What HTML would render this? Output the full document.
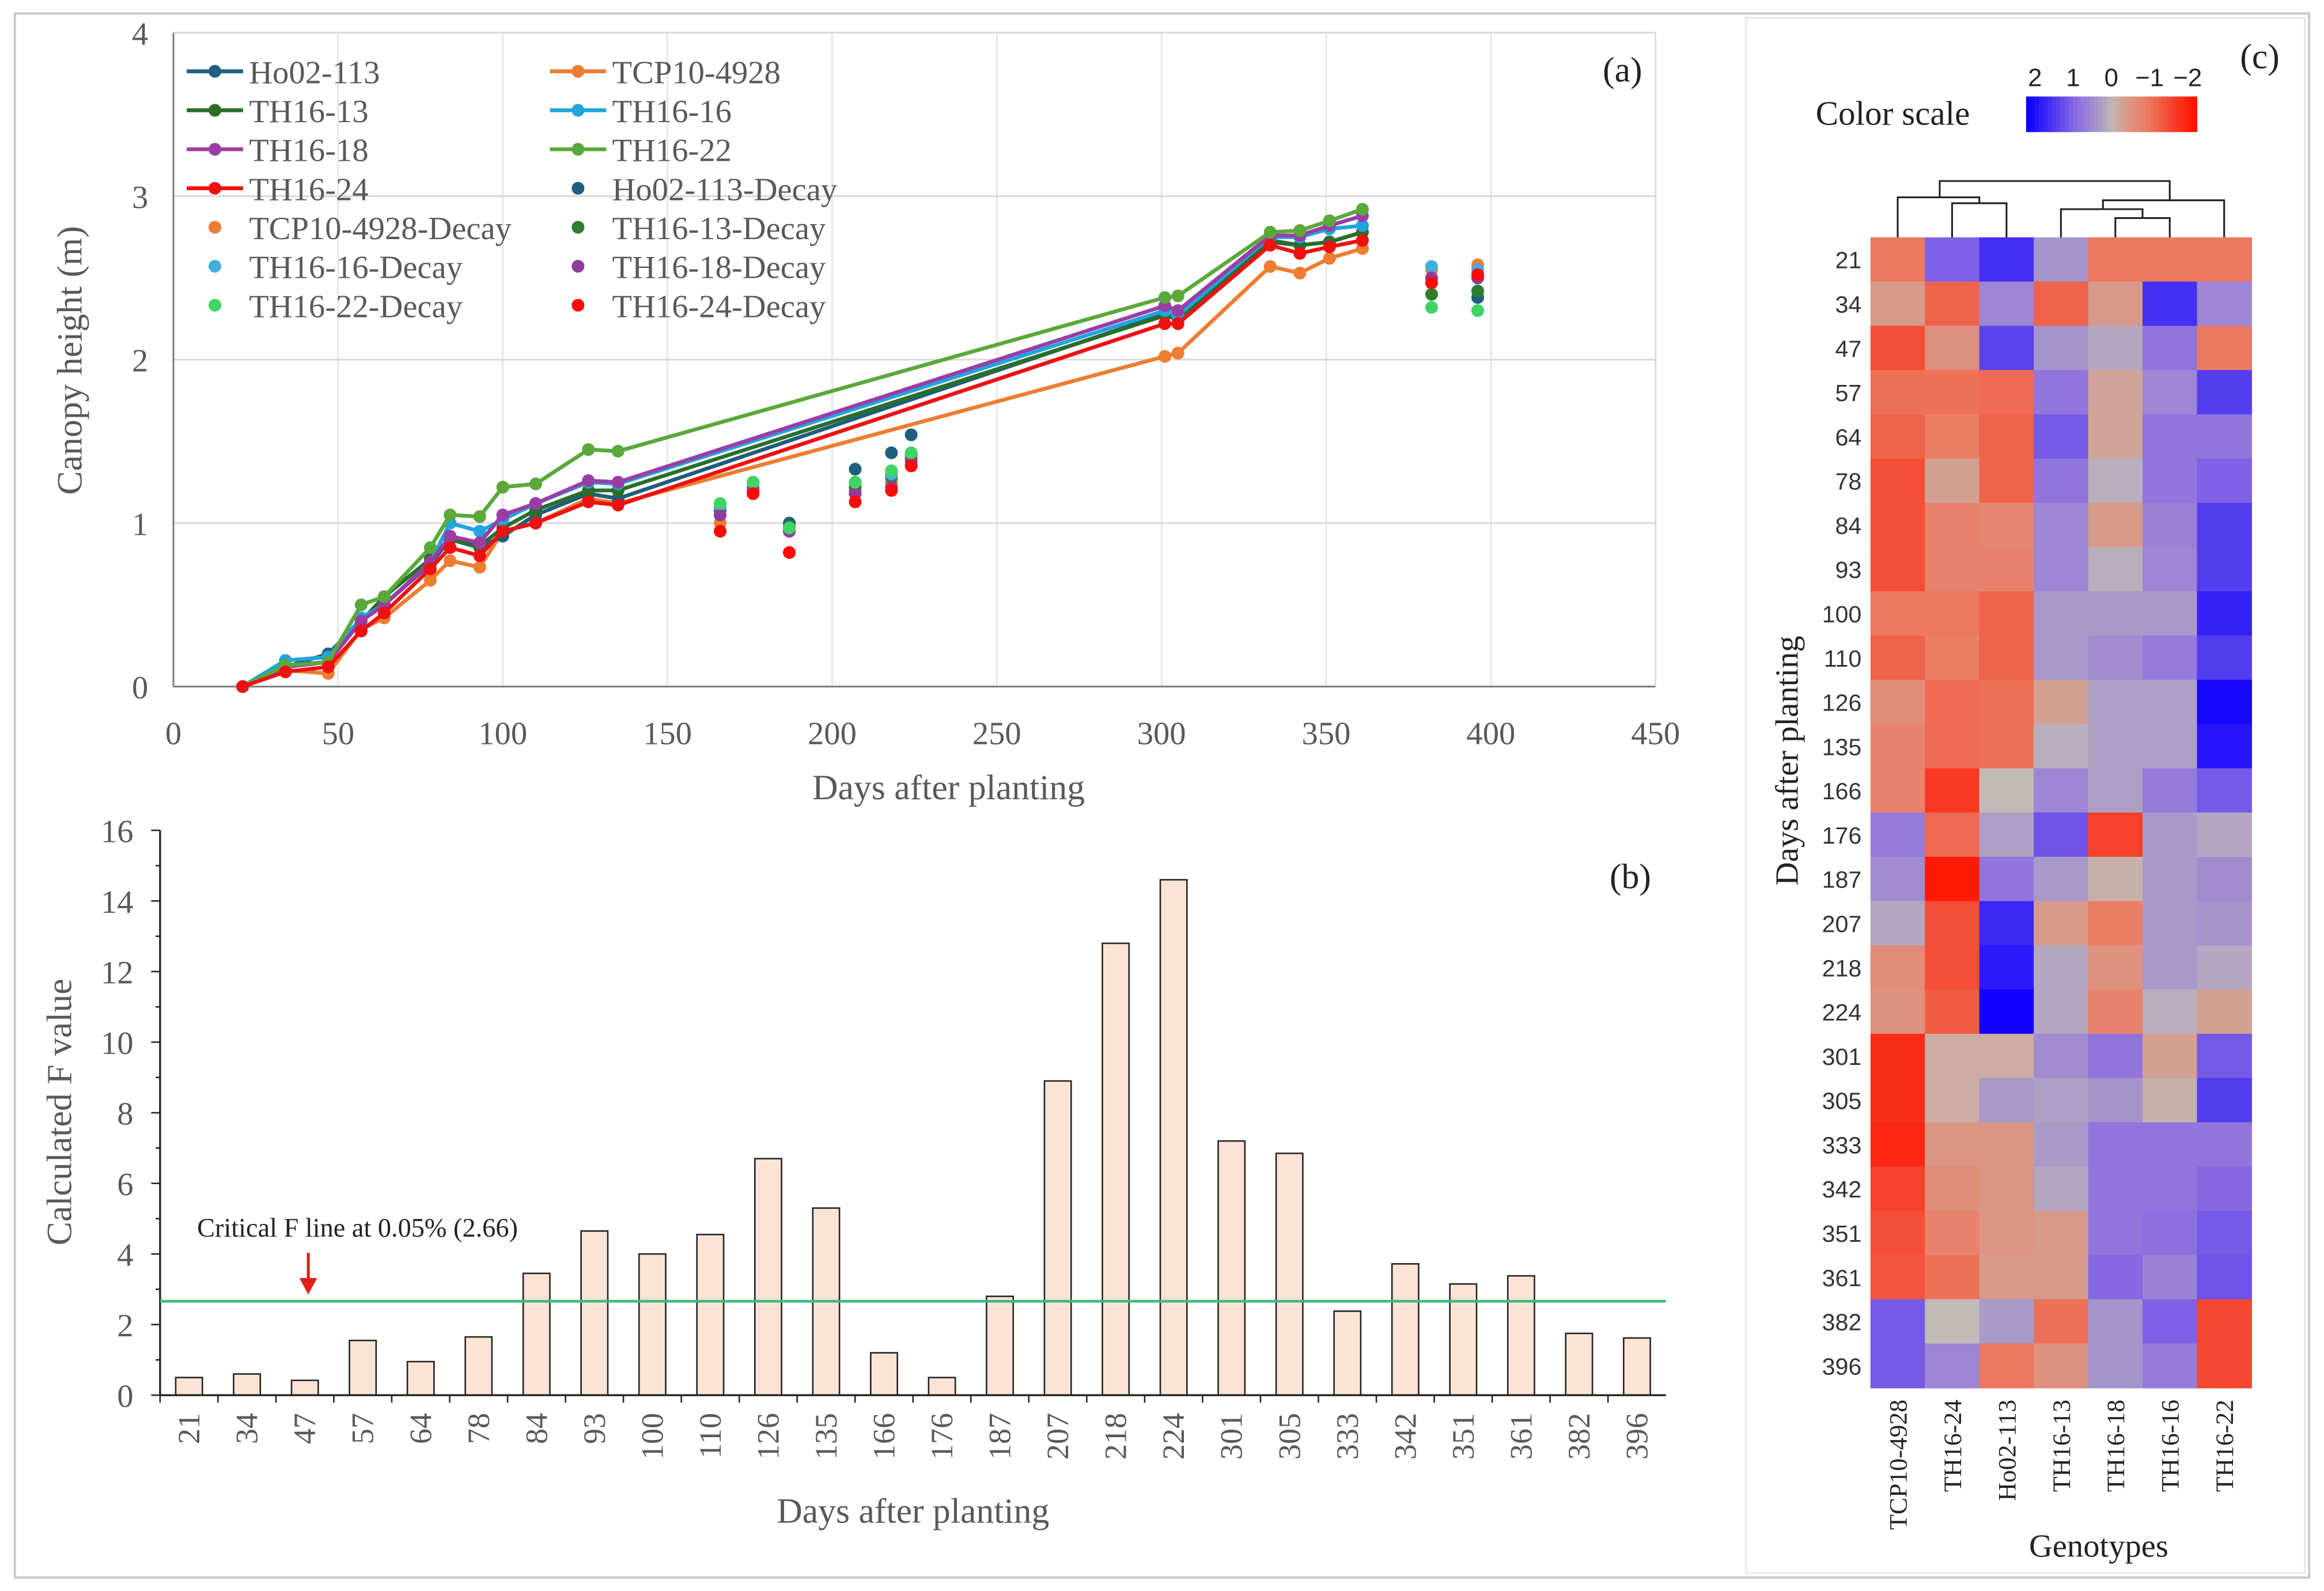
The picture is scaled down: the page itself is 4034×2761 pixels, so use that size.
<!DOCTYPE html>
<html><head><meta charset="utf-8"><style>
html,body{margin:0;padding:0;background:#fff;}
svg{display:block;font-family:"Liberation Serif",serif;}
</style></head><body>
<svg id="fig" width="4034" height="2761" viewBox="0 0 1568 1073" xmlns="http://www.w3.org/2000/svg">
<rect x="10" y="9" width="1548" height="1055" fill="#fff" stroke="#c8c8c8" stroke-width="1.5"/>
<rect x="1178" y="12" width="377" height="1049" fill="none" stroke="#e4e4e4" stroke-width="1"/>
<g id="pa"></g>
<g id="pb"></g>
<g id="pc"></g>
</svg>
<script>
const NS="http://www.w3.org/2000/svg";
function mk(p,t,a,txt){const e=document.createElementNS(NS,t);for(const k in a)e.setAttribute(k,a[k]);if(txt!==undefined)e.textContent=txt;p.appendChild(e);return e;}

// ---------- Panel A data ----------
const growDays=[21,34,47,57,64,78,84,93,100,110,126,135,301,305,333,342,351,361];
const decayDays=[166,176,187,207,218,224,382,396];
const genoNames=["Ho02-113","TCP10-4928","TH16-13","TH16-16","TH16-18","TH16-22","TH16-24"];
const hHo02=[0,.12,.2,.4,.5,.75,.9,.85,.92,1.05,1.18,1.15,2.28,2.25,2.72,2.7,2.72,2.78];
const hTCP=[0,.1,.08,.35,.42,.65,.77,.73,.95,1.0,1.15,1.12,2.02,2.04,2.57,2.53,2.62,2.68];
const h13=[0,.12,.15,.4,.55,.78,.9,.86,.97,1.08,1.2,1.2,2.27,2.25,2.73,2.7,2.72,2.78];
const h16=[0,.16,.18,.42,.5,.76,1.0,.95,1.02,1.12,1.25,1.24,2.3,2.27,2.75,2.75,2.8,2.82];
const h18=[0,.12,.15,.4,.5,.76,.92,.88,1.05,1.12,1.26,1.25,2.33,2.3,2.76,2.76,2.82,2.88];
const h22=[0,.13,.15,.5,.55,.85,1.05,1.04,1.22,1.24,1.45,1.44,2.38,2.39,2.78,2.79,2.85,2.92];
const h24=[0,.09,.12,.34,.45,.72,.85,.8,.95,1.0,1.13,1.11,2.22,2.22,2.7,2.65,2.69,2.73];
const dHo02=[1.08,1.22,1.0,1.33,1.43,1.54,2.5,2.38];
const dTCP=[1.0,1.18,.95,1.2,1.25,1.4,2.55,2.58];
const d13=[1.05,1.25,.98,1.22,1.28,1.42,2.4,2.42];
const d16=[1.1,1.22,.97,1.25,1.3,1.43,2.57,2.55];
const d18=[1.05,1.2,.95,1.18,1.22,1.38,2.5,2.5];
const d22=[1.12,1.25,.97,1.25,1.32,1.43,2.32,2.3];
const d24=[.95,1.18,.82,1.13,1.2,1.35,2.47,2.52];
const aXTicks=[0,50,100,150,200,250,300,350,400,450];
const aYTicks=[0,1,2,3,4];

// ---------- Panel B data ----------
const fDays=[21,34,47,57,64,78,84,93,100,110,126,135,166,176,187,207,218,224,301,305,333,342,351,361,382,396];
const fVals=[.5,.6,.42,1.55,.95,1.65,3.45,4.65,4.0,4.55,6.7,5.3,1.2,.5,2.8,8.9,12.8,14.6,7.2,6.85,2.38,3.72,3.15,3.38,1.75,1.62];
const fCritical=2.66;
const bYTicks=[0,2,4,6,8,10,12,14,16];

// ---------- Panel C data ----------
const hmCols=["TCP10-4928","TH16-24","Ho02-113","TH16-13","TH16-18","TH16-16","TH16-22"];
const hmRows=[21,34,47,57,64,78,84,93,100,110,126,135,166,176,187,207,218,224,301,305,333,342,351,361,382,396];
const hmVals=[
[-1.2,1.3,2,0.5,-1.2,-1.2,-1.2],[-0.5,-1.5,0.7,-1.5,-0.5,2,0.7],[-1.8,-0.7,1.7,0.5,0.2,1,-1.2],
[-1.3,-1.3,-1.4,1,-0.3,0.7,1.8],[-1.5,-1.1,-1.5,1.4,-0.3,1,1],[-1.8,-0.4,-1.5,1,0.1,1,1.3],
[-1.8,-1,-0.9,0.7,-0.5,0.8,1.8],[-1.8,-1,-1,0.7,0.1,0.7,1.8],[-1.2,-1.2,-1.5,0.4,0.4,0.4,2.2],
[-1.5,-1.1,-1.5,0.4,0.6,0.9,1.8],[-0.8,-1.4,-1.3,-0.4,0.3,0.3,2.6],[-1,-1.4,-1.3,0.1,0.3,0.3,2.4],
[-1,-2.1,0,0.7,0.3,0.9,1.4],[0.9,-1.4,0.3,1.5,-2,0.4,0.2],[0.6,-2.6,1,0.4,-0.1,0.4,0.6],
[0.2,-1.8,2.1,-0.5,-1.1,0.4,0.5],[-0.8,-1.8,2.3,0.2,-0.7,0.4,0.2],[-0.7,-1.6,2.8,0.2,-1,0.1,-0.4],
[-2.3,-0.2,-0.2,0.6,1,-0.4,1.4],[-2.3,-0.2,0.4,0.3,0.5,-0.1,1.8],[-2.4,-0.6,-0.6,0.4,1,1,1],
[-2,-0.8,-0.6,0.2,1,1,1.2],[-1.8,-1,-0.6,-0.5,1,1.1,1.4],[-1.7,-1.3,-0.5,-0.5,1.2,0.8,1.5],
[1.4,0,0.4,-1.3,0.5,1.3,-1.9],[1.4,0.7,-1.2,-0.7,0.5,0.9,-1.9]];

// ====== Panel A ======
const pa=document.getElementById('pa');
const ax0=117,ax1=1117,ay0=463,ay1=22;
const xA=d=>ax0+(d/450)*(ax1-ax0);
const yA=v=>ay0-(v/4)*(ay0-ay1);
aXTicks.forEach(t=>{if(t>0){const l=mk(pa,'line',{x1:xA(t),x2:xA(t),y1:ay1,y2:ay0,stroke:'#e3e3e3','stroke-width':1});}
 const tx=mk(pa,'text',{x:xA(t),y:502,'font-size':22,fill:'#595959','text-anchor':'middle'},t);});
aYTicks.forEach(t=>{if(t>0){const l=mk(pa,'line',{x1:ax0,x2:ax1,y1:yA(t),y2:yA(t),stroke:'#d9d9d9','stroke-width':1.2});}
 const tx=mk(pa,'text',{x:100,y:yA(t)+8,'font-size':22,fill:'#595959','text-anchor':'end'},t);});
mk(pa,'line',{x1:ax0,x2:ax1,y1:ay0,y2:ay0,stroke:'#7f7f7f','stroke-width':1.2});
mk(pa,'line',{x1:ax0,x2:ax0,y1:ay1,y2:ay0,stroke:'#7f7f7f','stroke-width':1.2});
mk(pa,'line',{x1:ax1,x2:ax1,y1:ay1,y2:ay0,stroke:'#d9d9d9','stroke-width':1});
let t=mk(pa,'text',{x:640,y:539,'font-size':24,fill:'#595959','text-anchor':'middle'},'Days after planting');
t=mk(pa,'text',{x:0,y:0,'font-size':24,fill:'#595959','text-anchor':'middle',transform:'translate(55,243) rotate(-90)'},'Canopy height (m)');
t=mk(pa,'text',{x:1108,y:55,'font-size':24,fill:'#222','text-anchor':'end'},'(a)');
const lineSeries=[[hHo02,'#1f5e7e'],[hTCP,'#ed7d31'],[h13,'#2a6e2a'],[h16,'#21a5de'],[h18,'#9a3ea6'],[h22,'#5aa93b'],[h24,'#ee1111']];
const decaySeries=[[dHo02,'#1f5e7e'],[dTCP,'#ed7d31'],[d13,'#2f7d2f'],[d16,'#42aee0'],[d18,'#8e3b9a'],[d22,'#3fd463'],[d24,'#ff0a0a']];
const drawOrder=[1,0,2,3,4,5,6];
drawOrder.forEach(i=>{const [vals,c]=lineSeries[i];
 const g=mk(pa,'g',{});
 const seg1=growDays.map((d,j)=>xA(d)+','+yA(vals[j])).join(' ');
 mk(g,'polyline',{points:seg1,fill:'none',stroke:c,'stroke-width':2.6});
 growDays.forEach((d,j)=>{mk(g,'circle',{cx:xA(d),cy:yA(vals[j]),r:4.3,fill:c});});});
decaySeries.forEach(([vals,c],i)=>{const g=mk(pa,'g',{});
 decayDays.forEach((d,j)=>{mk(g,'circle',{cx:xA(d),cy:yA(vals[j]),r:4.3,fill:c});});});
const lg=mk(pa,'g',{});
const legItems=[['Ho02-113',0,1],['TCP10-4928',1,1],['TH16-13',2,1],['TH16-16',3,1],['TH16-18',4,1],['TH16-22',5,1],['TH16-24',6,1],['Ho02-113-Decay',0,0],['TCP10-4928-Decay',1,0],['TH16-13-Decay',2,0],['TH16-16-Decay',3,0],['TH16-18-Decay',4,0],['TH16-22-Decay',5,0],['TH16-24-Decay',6,0]];
legItems.forEach((it,k)=>{const col=k%2,row=Math.floor(k/2);const x=126+col*245,y=48+row*26.3;
 const c=it[2]?lineSeries[it[1]][1]:decaySeries[it[1]][1];
 const e=mk(lg,'g',{});
 if(it[2])mk(e,'line',{x1:x,x2:x+38,y1:y,y2:y,stroke:c,'stroke-width':2.6});
 mk(e,'circle',{cx:x+19,cy:y,r:4.3,fill:c});
 mk(e,'text',{x:x+42,y:y+8,'font-size':22,fill:'#595959'},it[0]);});

// ====== Panel B ======
const pb=document.getElementById('pb');
const bx0=108,bx1=1124,by0=941,by1=560;
const step=(bx1-bx0)/fDays.length;
const xB=i=>bx0+step*(i+0.5);
const yB=v=>by0-(v/16)*(by0-by1);
fVals.forEach((v,i)=>{const r=mk(pb,'rect',{x:xB(i)-9,y:yB(v),width:18,height:by0-yB(v),fill:'#fbe3d6',stroke:'#222','stroke-width':1});
 
 const tx=mk(pb,'text',{x:0,y:0,'font-size':21,fill:'#595959','text-anchor':'end',transform:`translate(${xB(i)+7},${953}) rotate(-90)`},fDays[i]);});
mk(pb,'line',{x1:bx0,x2:bx1,y1:by0,y2:by0,stroke:'#222','stroke-width':1.3});
mk(pb,'line',{x1:bx0,x2:bx0,y1:by1,y2:by0,stroke:'#222','stroke-width':1.3});
fDays.forEach((d,i)=>{mk(pb,'line',{x1:bx0+step*i,x2:bx0+step*i,y1:by0,y2:by0+5,stroke:'#222'});});
bYTicks.forEach(v=>{mk(pb,'line',{x1:bx0-6,x2:bx0,y1:yB(v),y2:yB(v),stroke:'#222'});if(v<16)mk(pb,'line',{x1:bx0-3,x2:bx0,y1:yB(v+1),y2:yB(v+1),stroke:'#222'});
 const tx=mk(pb,'text',{x:90,y:yB(v)+8,'font-size':22,fill:'#595959','text-anchor':'end'},v);});
const cl=mk(pb,'line',{x1:bx0,x2:bx1,y1:yB(fCritical),y2:yB(fCritical),stroke:'#3dbb7a','stroke-width':1.8});
t=mk(pb,'text',{x:133,y:834,'font-size':18,fill:'#222'},'Critical F line at 0.05% (2.66)');
const ar=mk(pb,'g',{});
mk(ar,'line',{x1:208,x2:208,y1:845,y2:864,stroke:'#e0201a','stroke-width':2});
mk(ar,'polygon',{points:'202,862 214,862 208,873',fill:'#e0201a'});
t=mk(pb,'text',{x:616,y:1027,'font-size':24,fill:'#595959','text-anchor':'middle'},'Days after planting');
t=mk(pb,'text',{x:0,y:0,'font-size':24,fill:'#595959','text-anchor':'middle',transform:'translate(48,750) rotate(-90)'},'Calculated F value');
t=mk(pb,'text',{x:1114,y:599,'font-size':24,fill:'#222','text-anchor':'end'},'(b)');

// ====== Panel C ======
const pc=document.getElementById('pc');
const hx0=1262,hx1=1519,hy0=160,hy1=936;
const cw=(hx1-hx0)/hmCols.length,ch=(hy1-hy0)/hmRows.length;
function colr(v){const grey=[192,186,182];let tt=Math.pow(Math.min(Math.abs(v)/2.7,1),0.8);
 const mid=v>0?[140,110,225]:[235,125,100];const tgt=v>0?[15,0,255]:[255,20,0];
 let c;if(tt<0.5){const u=tt/0.5;c=grey.map((g,k)=>g+(mid[k]-g)*u);}else{const u=(tt-0.5)/0.5;c=mid.map((m,k)=>m+(tgt[k]-m)*u);}
 return 'rgb('+c.map(Math.round).join(',')+')';}
hmRows.forEach((r,i)=>{hmCols.forEach((c,j)=>{const e=mk(pc,'rect',{x:hx0+j*cw,y:hy0+i*ch,width:cw+0.4,height:ch+0.4,fill:colr(hmVals[i][j])});
 });
 const tx=mk(pc,'text',{x:1256,y:hy0+i*ch+ch/2+6,'font-size':16,fill:'#333','text-anchor':'end','font-family':'Liberation Sans, sans-serif'},r);});
hmCols.forEach((c,j)=>{const tx=mk(pc,'text',{x:0,y:0,'font-size':17,fill:'#222','text-anchor':'end',transform:`translate(${hx0+j*cw+cw/2+6},944) rotate(-90)`},c);});
const cx=j=>hx0+j*cw+cw/2;
const dg=mk(pc,'g',{fill:'none',stroke:'#222','stroke-width':1.2});
function link(xa,ya,xb,yb,yt){mk(dg,'polyline',{points:`${xa},${ya} ${xa},${yt} ${xb},${yt} ${xb},${yb}`});}
link(cx(1),hy0,cx(2),hy0,137);
link(cx(0),hy0,(cx(1)+cx(2))/2,137,133);
link(cx(5),hy0,cx(4),hy0,147);
link(cx(3),hy0,(cx(4)+cx(5))/2,147,141);
link((cx(3)+cx(4))/2+10,141,cx(6),hy0,135);
link((cx(0)+cx(1))/2+10,133,(cx(4)+cx(6))/2,135,122);
t=mk(pc,'text',{x:0,y:0,'font-size':22,fill:'#222','text-anchor':'middle',transform:'translate(1213,513) rotate(-90)'},'Days after planting');
t=mk(pc,'text',{x:1416,y:1050,'font-size':22,fill:'#222','text-anchor':'middle'},'Genotypes');
t=mk(pc,'text',{x:1538,y:46,'font-size':24,fill:'#222','text-anchor':'end'},'(c)');
t=mk(pc,'text',{x:1225,y:84,'font-size':23,fill:'#222'},'Color scale');
const cbx0=1367,cbx1=1482;
const cb=mk(pc,'g',{});
for(let k=0;k<40;k++){const v=2.7-5.4*k/39;mk(cb,'rect',{x:cbx0+k*(cbx1-cbx0)/40,y:65,width:(cbx1-cbx0)/40+0.5,height:24,fill:colr(v)});}
const cbTicks=['2','1','0','−1','−2'];
cbTicks.forEach((s,k)=>{const x=cbx0+6+k*(cbx1-cbx0-12)/4;const tx=mk(pc,'text',{x:x,y:58,'font-size':17,fill:'#222','text-anchor':'middle','font-family':'Liberation Sans, sans-serif'},s);});
</script>
</body></html>
